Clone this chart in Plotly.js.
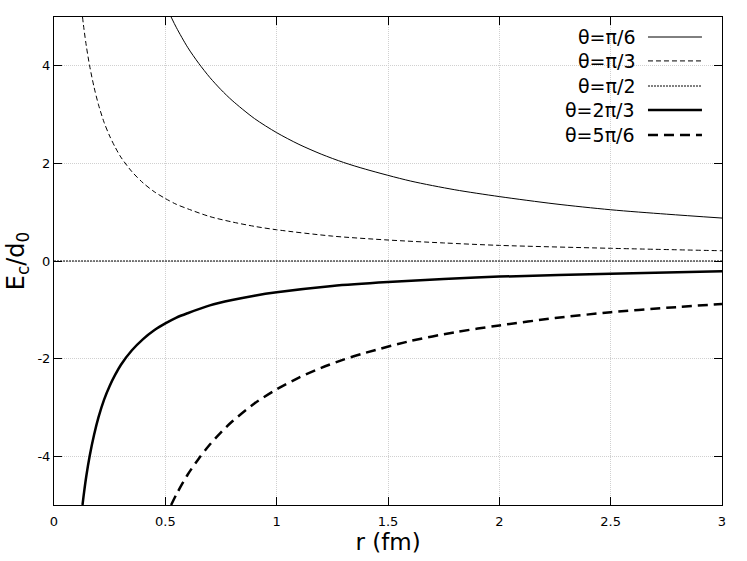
<!DOCTYPE html>
<html><head><meta charset="utf-8">
<script src="https://cdn.plot.ly/plotly-3.0.1.min.js"></script>
<style>html,body{margin:0;padding:0;background:#fff}#c{width:747px;height:561px}</style>
</head><body><div id="c"></div>
<script>
// Series
const r_pi6 = [0.526, 0.55, 0.6, 0.65, 0.7, 0.75, 0.8, 0.9, 1.0, 1.1, 1.2, 1.3, 1.4, 1.6, 1.8, 2.0, 2.25, 2.5, 2.75, 3.0];
const E_pi6 = [5.0, 4.78, 4.38, 4.05, 3.76, 3.51, 3.29, 2.92, 2.63, 2.39, 2.19, 2.02, 1.88, 1.64, 1.46, 1.32, 1.17, 1.05, 0.96, 0.88];
const r_pi3 = [0.128, 0.135, 0.145, 0.16, 0.18, 0.2, 0.225, 0.25, 0.275, 0.3, 0.35, 0.4, 0.45, 0.5, 0.55, 0.6, 0.7, 0.8, 0.9, 1.0, 1.25, 1.5, 1.75, 2.0, 2.5, 3.0];
const E_pi3 = [5.0, 4.74, 4.41, 4.0, 3.56, 3.2, 2.84, 2.56, 2.33, 2.13, 1.83, 1.6, 1.42, 1.28, 1.16, 1.07, 0.91, 0.8, 0.71, 0.64, 0.51, 0.43, 0.37, 0.32, 0.26, 0.21];
const r_pi2 = [0, 3];
const E_pi2 = [0, 0];
const r_2pi3 = [0.128, 0.135, 0.145, 0.16, 0.18, 0.2, 0.225, 0.25, 0.275, 0.3, 0.35, 0.4, 0.45, 0.5, 0.55, 0.6, 0.7, 0.8, 0.9, 1.0, 1.25, 1.5, 1.75, 2.0, 2.5, 3.0];
const E_2pi3 = [-5.0, -4.74, -4.41, -4.0, -3.56, -3.2, -2.84, -2.56, -2.33, -2.13, -1.83, -1.6, -1.42, -1.28, -1.16, -1.07, -0.91, -0.8, -0.71, -0.64, -0.51, -0.43, -0.37, -0.32, -0.26, -0.21];
const r_5pi6 = [0.526, 0.55, 0.6, 0.65, 0.7, 0.75, 0.8, 0.9, 1.0, 1.1, 1.2, 1.3, 1.4, 1.6, 1.8, 2.0, 2.25, 2.5, 2.75, 3.0];
const E_5pi6 = [-5.0, -4.78, -4.38, -4.05, -3.76, -3.51, -3.29, -2.92, -2.63, -2.39, -2.19, -2.02, -1.88, -1.64, -1.46, -1.32, -1.17, -1.05, -0.96, -0.88];
const seriesNames = ['θ=π/6', 'θ=π/3', 'θ=π/2', 'θ=2π/3', 'θ=5π/6'];
const xTickVals = [0, 0.5, 1, 1.5, 2, 2.5, 3];
const xTickText = ['0', '0.5', '1', '1.5', '2', '2.5', '3'];
const yTickVals = [-4, -2, 0, 2, 4];
const yTickText = ['-4', '-2', '0', '2', '4'];

const styles = [
  {width: 1, dash: 'solid'},
  {width: 1, dash: '5px,3px'},
  {width: 1, dash: '2px,1px'},
  {width: 2.5, dash: 'solid'},
  {width: 2.5, dash: '10px,6px'}
];
const xs = [r_pi6, r_pi3, r_pi2, r_2pi3, r_5pi6];
const ys = [E_pi6, E_pi3, E_pi2, E_2pi3, E_5pi6];

const traces = xs.map((x, i) => ({
  x: x, y: ys[i], type: 'scatter', mode: 'lines', name: seriesNames[i],
  line: {color: '#000', width: styles[i].width, dash: styles[i].dash, shape: 'spline', smoothing: 0.8},
  showlegend: false, cliponaxis: true
}));

// custom legend (text left of sample, as in the reference)
const shapes = [{type: 'rect', xref: 'paper', yref: 'paper', x0: 0.768, x1: 0.999, y0: 0.734, y1: 0.999,
  fillcolor: '#fff', line: {width: 0}, layer: 'between'}];
const annotations = [];
const rowY = [0.959, 0.910, 0.8586, 0.8094, 0.758];
seriesNames.forEach((n, i) => {
  annotations.push({xref: 'paper', yref: 'paper', x: 0.8728, y: rowY[i], text: n, showarrow: false,
    xanchor: 'right', yanchor: 'middle', font: {family: 'DejaVu Sans', size: 19, color: '#000'}});
  shapes.push({type: 'line', xref: 'paper', yref: 'paper', x0: 0.8892, x1: 0.970, y0: rowY[i], y1: rowY[i],
    line: {color: '#000', width: styles[i].width, dash: styles[i].dash}, layer: 'above'});
});

const axisCommon = {
  showline: true, linecolor: '#000', linewidth: 1, mirror: 'ticks',
  ticks: 'inside', ticklen: 8, tickcolor: '#000', tickwidth: 1,
  showgrid: true, gridcolor: '#d0d0d0', gridwidth: 1, griddash: '1px,1px',
  zeroline: false, tickmode: 'array',
  tickfont: {family: 'DejaVu Sans', size: 13, color: '#000'}
};

const layout = {
  width: 747, height: 561,
  margin: {l: 54, r: 25, t: 17, b: 56},
  paper_bgcolor: '#fff', plot_bgcolor: '#fff',
  font: {family: 'DejaVu Sans', color: '#000'},
  xaxis: Object.assign({}, axisCommon, {range: [0, 3], tickvals: xTickVals, ticktext: xTickText,
    ticklabelstandoff: 4,
    title: {text: 'r (fm)', font: {family: 'DejaVu Sans', size: 23, color: '#000'}, standoff: 6}}),
  yaxis: Object.assign({}, axisCommon, {range: [-5, 5], tickvals: yTickVals, ticktext: yTickText,
    title: {text: 'E<sub>c</sub>/d<sub>0</sub>', font: {family: 'DejaVu Sans', size: 24, color: '#000'}, standoff: 6}}),
  shapes: shapes, annotations: annotations, showlegend: false
};

Plotly.newPlot('c', traces, layout, {displayModeBar: false, staticPlot: true});
</script></body></html>
